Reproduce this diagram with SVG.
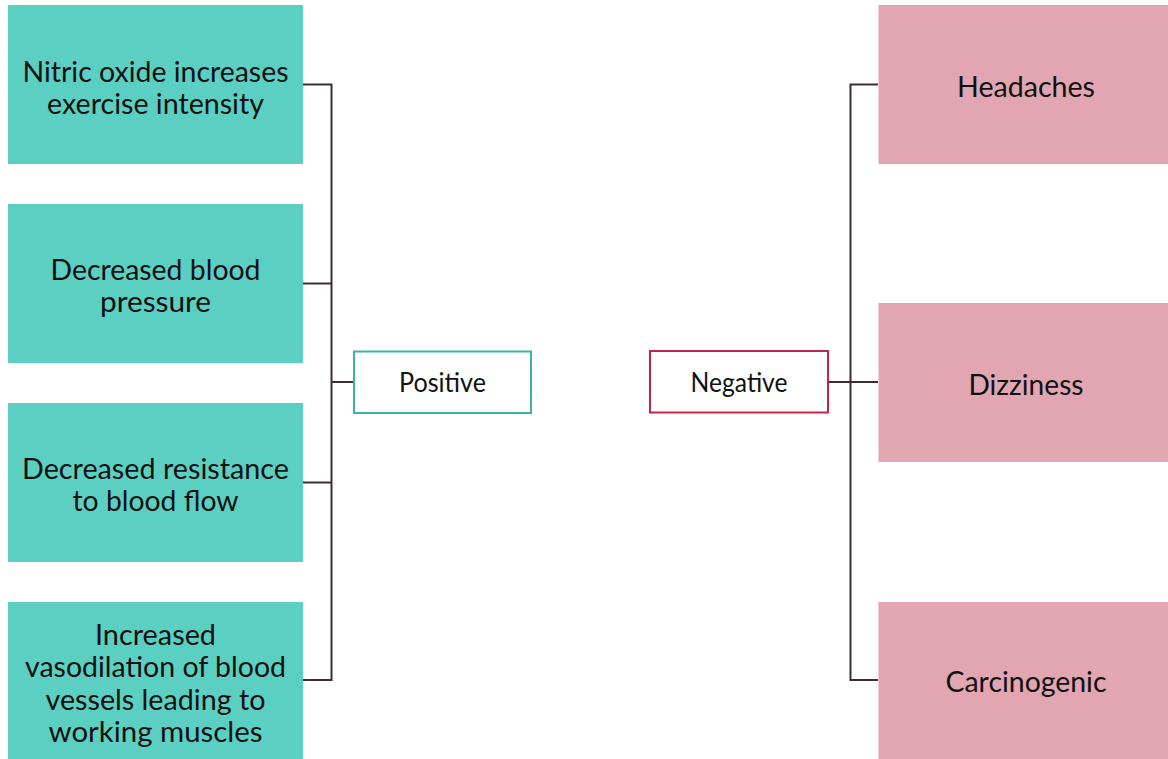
<svg xmlns="http://www.w3.org/2000/svg" width="1168" height="759" viewBox="0 0 1168 759">
  <style>
    .pos-item { fill: #5ccfc3; }
    .neg-item { fill: #e2a6b3; }
    .label { font-family: "Lato", "Liberation Sans", sans-serif; font-size: 28px; fill: #111111; text-anchor: middle; }
    .hub-label { font-family: "Lato", "Liberation Sans", sans-serif; font-size: 27px; fill: #111111; text-anchor: middle; }
    .link { fill: none; stroke: #3d2c33; stroke-width: 2; }
  </style>
  <rect width="1168" height="759" fill="#ffffff"/>

  <!-- connectors -->
  <g id="connectors">
    <path class="link" d="M303 84.5 H331.5 V680 H303"/>
    <path class="link" d="M303 283.5 H331.5 M303 482.5 H331.5 M331.5 382 H353"/>
    <path class="link" d="M878 84.5 H850.5 V680 H878"/>
    <path class="link" d="M828 382 H878"/>
  </g>

  <!-- positive side -->
  <g id="nitric-oxide">
    <rect class="pos-item" x="8" y="5" width="295" height="159"/>
    <text class="label" x="155.5" y="82" textLength="266" lengthAdjust="spacingAndGlyphs">Nitric oxide increases</text>
    <text class="label" x="155.5" y="114" textLength="217" lengthAdjust="spacingAndGlyphs">exercise intensity</text>
  </g>
  <g id="blood-pressure">
    <rect class="pos-item" x="8" y="204" width="295" height="159"/>
    <text class="label" x="155.5" y="280" textLength="210" lengthAdjust="spacingAndGlyphs">Decreased blood</text>
    <text class="label" x="155.5" y="312" textLength="111" lengthAdjust="spacingAndGlyphs">pressure</text>
  </g>
  <g id="resistance">
    <rect class="pos-item" x="8" y="403" width="295" height="159"/>
    <text class="label" x="155.5" y="479" textLength="267" lengthAdjust="spacingAndGlyphs">Decreased resistance</text>
    <text class="label" x="155.5" y="511" textLength="166" lengthAdjust="spacingAndGlyphs">to blood flow</text>
  </g>
  <g id="vasodilation">
    <rect class="pos-item" x="8" y="602" width="295" height="159"/>
    <text class="label" x="155.5" y="645" textLength="121" lengthAdjust="spacingAndGlyphs">Increased</text>
    <text class="label" x="155.5" y="677" textLength="261" lengthAdjust="spacingAndGlyphs">vasodilation of blood</text>
    <text class="label" x="155.5" y="710" textLength="220" lengthAdjust="spacingAndGlyphs">vessels leading to</text>
    <text class="label" x="155.5" y="742" textLength="214" lengthAdjust="spacingAndGlyphs">working muscles</text>
  </g>
  <g id="positive">
    <rect x="354" y="351.5" width="177" height="61.5" fill="#ffffff" stroke="#3bb3a5" stroke-width="2"/>
    <text class="hub-label" x="442.5" y="391.5" textLength="87" lengthAdjust="spacingAndGlyphs">Positive</text>
  </g>

  <!-- negative side -->
  <g id="negative">
    <rect x="650" y="351" width="178" height="61.5" fill="#ffffff" stroke="#c2254b" stroke-width="2"/>
    <text class="hub-label" x="739" y="391.5" textLength="97" lengthAdjust="spacingAndGlyphs">Negative</text>
  </g>
  <g id="headaches">
    <rect class="neg-item" x="878.5" y="5" width="295" height="159"/>
    <text class="label" x="1026" y="97" textLength="138" lengthAdjust="spacingAndGlyphs">Headaches</text>
  </g>
  <g id="dizziness">
    <rect class="neg-item" x="878.5" y="303" width="295" height="159"/>
    <text class="label" x="1026" y="395" textLength="115" lengthAdjust="spacingAndGlyphs">Dizziness</text>
  </g>
  <g id="carcinogenic">
    <rect class="neg-item" x="878.5" y="602" width="295" height="159"/>
    <text class="label" x="1026" y="692" textLength="161" lengthAdjust="spacingAndGlyphs">Carcinogenic</text>
  </g>
</svg>
